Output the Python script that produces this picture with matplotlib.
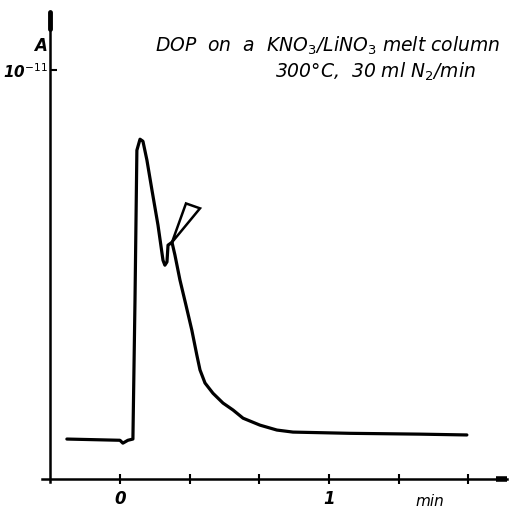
import matplotlib
matplotlib.use("Agg")
import matplotlib.pyplot as plt

# time in minutes, signal in units of 1e-11 A
time_min = [-0.254, 0.0, 0.014, 0.038, 0.062, 0.072, 0.081, 0.096, 0.110, 0.129,
            0.153, 0.182, 0.206, 0.215, 0.225, 0.230, 0.249, 0.263, 0.287, 0.316,
            0.344, 0.368, 0.383, 0.407, 0.445, 0.493, 0.541, 0.589, 0.670, 0.751,
            0.828, 1.100, 1.435, 1.660]
signal = [0.098, 0.095, 0.088, 0.095, 0.098, 0.438, 0.804, 0.831, 0.826, 0.780,
          0.707, 0.621, 0.535, 0.523, 0.531, 0.572, 0.579, 0.548, 0.487, 0.425,
          0.364, 0.303, 0.267, 0.235, 0.210, 0.186, 0.169, 0.149, 0.132, 0.120,
          0.115, 0.112, 0.110, 0.108]

x_ticks = [0, 1/3, 2/3, 1, 4/3, 5/3]
x_tick_labels = ["0", "", "", "1", "", ""]
y_ticks = [1.0]
y_tick_labels = ["10$^{-11}$"]

# hand-drawn arrow marking the shoulder (x, y)
arrow_x = [0.249, 0.316, 0.383, 0.249]
arrow_y = [0.579, 0.674, 0.662, 0.579]

fig = plt.figure(figsize=(5.27, 5.13), dpi=100)
ax = fig.add_axes([42/527, 1-482/513, (507-42)/527, (482-12)/513])

ax.plot(time_min, signal, color="black", lw=2.3, solid_joinstyle="round",
        solid_capstyle="round")
ax.plot(arrow_x, arrow_y, color="black", lw=1.8, solid_joinstyle="miter")

ax.set_xlim(-0.373, 1.852)
ax.set_ylim(-0.007, 1.142)

for s in ["top", "right"]:
    ax.spines[s].set_visible(False)
ax.spines["left"].set_position(("data", -1/3))
ax.spines["bottom"].set_position(("data", 0))
ax.spines["left"].set_linewidth(1.8)
ax.spines["bottom"].set_linewidth(1.8)

# axis ends
ax.plot([-1/3, -1/3], [1.10, 1.142], color="black", lw=3.5, solid_capstyle="round",
        clip_on=False)
ax.plot([1.80, 1.852], [0, 0], color="black", lw=4, solid_capstyle="butt",
        clip_on=False)

ax.set_xticks(x_ticks)
ax.set_xticklabels(x_tick_labels, fontsize=12, style="italic", fontweight="bold")
ax.set_yticks(y_ticks)
ax.set_yticklabels(y_tick_labels, fontsize=11, style="italic", fontweight="bold")
ax.tick_params(axis="x", direction="inout", length=7, width=1.5, pad=4)
ax.tick_params(axis="y", direction="in", length=5, width=1.5, pad=2)

ax.text(-0.38, 1.06, "A", fontsize=12, style="italic", fontweight="bold",
        ha="center", va="center")
ax.text(1.483, -0.055, "min", fontsize=11, style="italic", ha="center", va="center")

ax.text(0.17, 1.06, "DOP  on  a  KNO$_3$/LiNO$_3$ melt column", fontsize=13.5,
        style="italic", ha="left", va="center")
ax.text(0.74, 0.995, "300°C,  30 ml N$_2$/min", fontsize=13.5,
        style="italic", ha="left", va="center")

fig.savefig("out.png", dpi=100)
